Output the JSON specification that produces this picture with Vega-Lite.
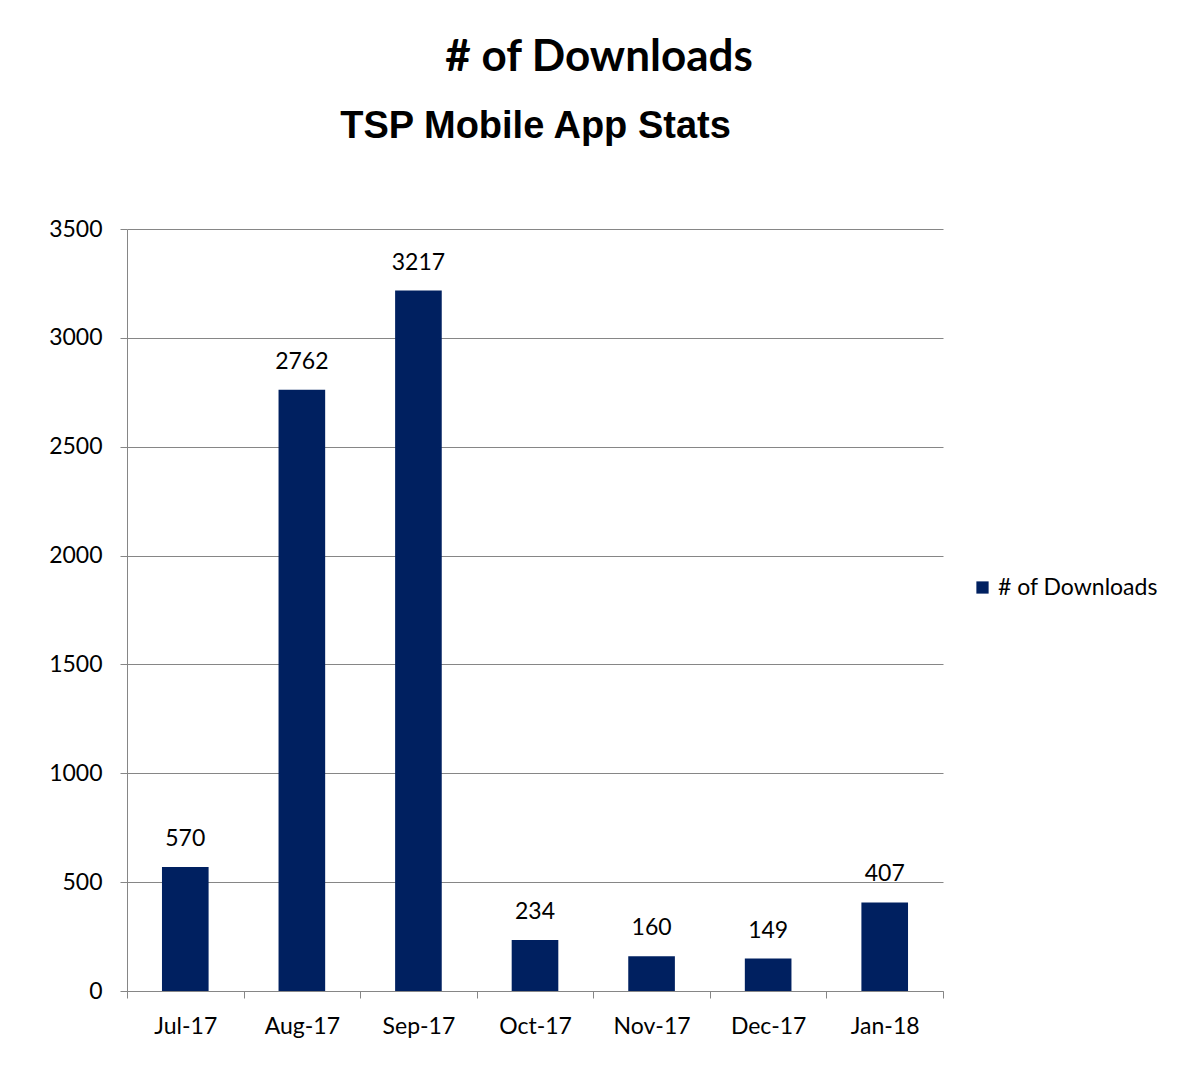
{
  "$schema": "https://vega.github.io/schema/vega-lite/v6.json",
  "autosize": {"type": "none"},
  "width": 816,
  "height": 762,
  "padding": {"left": 127, "top": 229, "right": 246, "bottom": 96},
  "background": "white",
  "view": {"stroke": null},
  "title": {
    "text": "# of Downloads",
    "font": "Lato",
    "fontSize": 44,
    "fontWeight": "bold",
    "color": "black",
    "anchor": "middle",
    "dx": 64,
    "offset": 27
  },
  "data": {
    "values": [
      {"month": "Jul-17", "downloads": 570},
      {"month": "Aug-17", "downloads": 2762},
      {"month": "Sep-17", "downloads": 3217},
      {"month": "Oct-17", "downloads": 234},
      {"month": "Nov-17", "downloads": 160},
      {"month": "Dec-17", "downloads": 149},
      {"month": "Jan-18", "downloads": 407}
    ]
  },
  "encoding": {
    "x": {
      "field": "month",
      "type": "nominal",
      "sort": null,
      "scale": {"paddingInner": 0, "paddingOuter": 0}
    },
    "y": {
      "field": "downloads",
      "type": "quantitative",
      "scale": {"domain": [0, 3500], "nice": false},
      "axis": {
        "title": null,
        "values": [0, 500, 1000, 1500, 2000, 2500, 3000, 3500],
        "format": "d",
        "grid": true,
        "gridColor": "#868686",
        "domainColor": "#868686",
        "tickColor": "#868686",
        "tickSize": 7,
        "labelPadding": 18,
        "labelFont": "Lato",
        "labelFontSize": 23,
        "labelColor": "black"
      }
    }
  },
  "layer": [
    {
      "mark": {"type": "bar", "width": {"band": 0.4}},
      "encoding": {
        "x": {
          "field": "month",
          "type": "nominal",
          "sort": null,
          "axis": {
            "title": null,
            "labelAngle": 0,
            "tickBand": "extent",
            "tickSize": 7,
            "tickColor": "#868686",
            "domainColor": "#868686",
            "labelPadding": 17,
            "labelFont": "Lato",
            "labelFontSize": 23,
            "labelColor": "black"
          }
        },
        "color": {
          "datum": "# of Downloads",
          "scale": {"range": ["#002060"]},
          "legend": {
            "title": null,
            "orient": "none",
            "legendX": 844,
            "legendY": 347,
            "symbolType": "square",
            "symbolSize": 150,
            "symbolStrokeWidth": 0,
            "labelFont": "Lato",
            "labelFontSize": 23,
            "labelColor": "black",
            "labelOffset": 4
          }
        }
      }
    },
    {
      "mark": {
        "type": "text",
        "font": "Lato",
        "fontSize": 23,
        "color": "black",
        "baseline": "alphabetic",
        "dy": -21
      },
      "encoding": {
        "x": {
          "field": "month",
          "type": "nominal",
          "sort": null,
          "axis": {
            "orient": "top",
            "title": "TSP Mobile App Stats",
            "titleFont": "Liberation Sans",
            "titleFontSize": 38,
            "titleFontWeight": "bold",
            "titleColor": "black",
            "titleBaseline": "alphabetic",
            "titlePadding": 92,
            "labels": false,
            "ticks": false,
            "domain": false
          }
        },
        "text": {"field": "downloads", "type": "quantitative"}
      }
    }
  ],
  "resolve": {"axis": {"x": "independent"}}
}
